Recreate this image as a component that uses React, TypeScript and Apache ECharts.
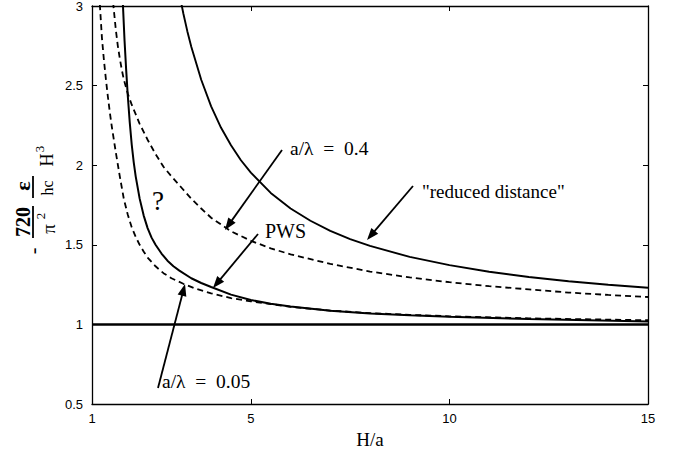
import React, { useEffect, useRef } from "react";
import * as echarts from "echarts";

// Axis ticks
const xTicks = [1, 5, 10, 15];
const yTicks = [0.5, 1, 1.5, 2, 2.5, 3];

// "reduced distance" (solid)
const reducedX = [3.1, 3.2, 3.3, 3.4, 3.5, 3.75, 4, 4.25, 4.5, 4.75, 5, 5.5, 6, 6.5, 7, 7.5, 8, 9, 10, 11, 12, 13, 14, 15];
const reducedY = [3.217, 3.077, 2.953, 2.842, 2.744, 2.537, 2.37, 2.235, 2.125, 2.031, 1.953, 1.826, 1.728, 1.651, 1.588, 1.536, 1.493, 1.424, 1.372, 1.331, 1.298, 1.271, 1.249, 1.23];

// PWS (solid)
const pwsX = [1.74, 1.78, 1.82, 1.86, 1.9, 1.95, 2.0, 2.05, 2.1, 2.2, 2.3, 2.4, 2.5, 2.6, 2.75, 2.9, 3.05, 3.2, 3.5, 3.75, 4, 4.5, 5, 5.5, 6, 7, 8, 9, 10, 12, 15];
const pwsY = [3.3, 3.0, 2.78, 2.6, 2.44, 2.27, 2.13, 2.02, 1.93, 1.79, 1.685, 1.605, 1.545, 1.5, 1.445, 1.4, 1.365, 1.338, 1.29, 1.26, 1.235, 1.187, 1.153, 1.13, 1.112, 1.086, 1.069, 1.057, 1.048, 1.034, 1.018];

// a/lambda = 0.05 (dashed)
const l005X = [1.17, 1.2, 1.25, 1.3, 1.35, 1.4, 1.45, 1.5, 1.6, 1.7, 1.8, 1.9, 2.0, 2.1, 2.2, 2.3, 2.4, 2.6, 2.8, 3.0, 3.3, 3.6, 4.0, 4.5, 5, 5.5, 6, 7, 8, 9, 10, 12, 15];
const l005Y = [3.2, 3.0, 2.8, 2.66, 2.54, 2.43, 2.33, 2.24, 2.08, 1.93, 1.79, 1.69, 1.61, 1.55, 1.5, 1.458, 1.42, 1.365, 1.322, 1.29, 1.255, 1.225, 1.195, 1.165, 1.145, 1.128, 1.11, 1.087, 1.071, 1.06, 1.051, 1.038, 1.026];

// a/lambda = 0.4 (dashed)
const l04X = [1.5, 1.54, 1.6, 1.65, 1.7, 1.75, 1.8, 1.9, 2.0, 2.2, 2.4, 2.6, 2.8, 3.0, 3.25, 3.5, 3.75, 4.0, 4.5, 5.0, 5.5, 6, 7, 8, 9, 10, 11, 12, 13, 14, 15];
const l04Y = [3.15, 3.0, 2.85, 2.75, 2.67, 2.6, 2.54, 2.45, 2.38, 2.26, 2.16, 2.07, 1.99, 1.93, 1.86, 1.79, 1.728, 1.67, 1.585, 1.525, 1.478, 1.44, 1.38, 1.332, 1.295, 1.265, 1.24, 1.22, 1.2, 1.185, 1.172];

// reference level
const refX = [1, 15];
const refY = [1, 1];

const zip = (xs: number[], ys: number[]) => xs.map((x, i) => [x, ys[i]]);

const SERIF = "'Liberation Serif', 'DejaVu Serif', serif";
const SANS = "'Liberation Sans', Arial, sans-serif";

function arrow(x1: number, y1: number, x2: number, y2: number) {
  const dx = x2 - x1;
  const dy = y2 - y1;
  const len = Math.hypot(dx, dy);
  const ux = dx / len;
  const uy = dy / len;
  const hl = 12;
  const hw = 4.5;
  const bx = x2 - ux * hl;
  const by = y2 - uy * hl;
  return [
    {
      type: "line",
      shape: { x1, y1, x2: bx + ux * 2, y2: by + uy * 2 },
      style: { stroke: "#000", lineWidth: 1.8 },
      silent: true,
    },
    {
      type: "polygon",
      shape: {
        points: [
          [x2, y2],
          [bx - uy * hw, by + ux * hw],
          [bx + uy * hw, by - ux * hw],
        ],
      },
      style: { fill: "#000" },
      silent: true,
    },
  ];
}

function label(text: string, x: number, y: number, size: number) {
  return {
    type: "text",
    x,
    y,
    style: {
      text,
      font: `${size}px ${SERIF}`,
      fill: "#000",
      align: "left",
      verticalAlign: "middle",
    },
    silent: true,
  };
}

function rot(text: string, x: number, y: number, size: number, weight = "normal") {
  return {
    type: "text",
    x,
    y,
    rotation: Math.PI / 2,
    style: {
      text,
      font: `${weight} ${size}px ${SERIF}`,
      fill: "#000",
      align: "center",
      verticalAlign: "middle",
    },
    silent: true,
  };
}

export default function App() {
  const ref = useRef<HTMLDivElement>(null);

  useEffect(() => {
    document.body.style.margin = "0";
    if (!ref.current) return;
    const chart = echarts.init(ref.current, null, { renderer: "svg" });

    const lineBase = {
      type: "line",
      showSymbol: false,
      symbol: "none",
      smooth: false,
      clip: true,
      xAxisIndex: 0,
      yAxisIndex: 0,
    };

    const axisLine = { show: true, lineStyle: { color: "#000", width: 1.3 } };

    const graphic: any[] = [
      // annotations
      label("a/λ\u2002=\u20020.4", 290, 148, 19.5),
      ...arrow(282, 150, 225, 230),
      label("PWS", 265, 231, 20),
      ...arrow(258, 234, 213, 288),
      label("?", 152, 201, 27),
      label("\"reduced distance\"", 422, 191, 19),
      ...arrow(413, 186, 367, 240),
      label("a/λ\u2002=\u20020.05", 162, 381, 19.5),
      ...arrow(158, 388, 185, 284),
      // y axis title: - 720/π² ε/hc H³ (rotated)
      rot("-", 33, 251, 20),
      rot("720", 23, 222, 20, "bold"),
      { type: "line", shape: { x1: 33, y1: 206, x2: 33, y2: 238 }, style: { stroke: "#000", lineWidth: 1.8 }, silent: true },
      rot("π", 48, 229, 19),
      rot("2", 40, 216, 13),
      rot("ε", 22, 186, 22, "bold"),
      { type: "line", shape: { x1: 33, y1: 176, x2: 33, y2: 198 }, style: { stroke: "#000", lineWidth: 1.8 }, silent: true },
      rot("hc", 47, 188, 16),
      rot("H", 47, 160, 18),
      rot("3", 39, 149, 13),
    ];

    chart.setOption({
      animation: false,
      backgroundColor: "#fff",
      grid: {
        left: 92,
        right: 26,
        top: 6,
        bottom: 47,
        containLabel: false,
        outerBoundsMode: "none",
      },
      xAxis: [
        {
          type: "value",
          min: 1,
          max: 15,
          position: "bottom",
          name: "H/a",
          nameLocation: "middle",
          nameGap: 22,
          nameTextStyle: { fontFamily: SERIF, fontSize: 19, color: "#000" },
          axisLine,
          axisTick: { show: true, inside: true, length: 5, customValues: xTicks, lineStyle: { color: "#000", width: 1 } },
          axisLabel: { customValues: xTicks, fontFamily: SANS, fontSize: 13, color: "#000", margin: 8 },
          splitLine: { show: false },
        },
        {
          type: "value",
          min: 1,
          max: 15,
          position: "top",
          axisLine,
          axisTick: { show: true, inside: true, length: 5, customValues: xTicks, lineStyle: { color: "#000", width: 1 } },
          axisLabel: { show: false },
          splitLine: { show: false },
        },
      ],
      yAxis: [
        {
          type: "value",
          min: 0.5,
          max: 3,
          interval: 0.5,
          position: "left",
          axisLine,
          axisTick: { show: true, inside: true, length: 5, lineStyle: { color: "#000", width: 1 } },
          axisLabel: {
            fontFamily: SANS,
            fontSize: 13,
            color: "#000",
            margin: 9,
            formatter: (v: number) => (yTicks.includes(v) ? String(v) : ""),
          },
          splitLine: { show: false },
        },
        {
          type: "value",
          min: 0.5,
          max: 3,
          interval: 0.5,
          position: "right",
          axisLine,
          axisTick: { show: true, inside: true, length: 5, lineStyle: { color: "#000", width: 1 } },
          axisLabel: { show: false },
          splitLine: { show: false },
        },
      ],
      series: [
        {
          ...lineBase,
          name: "reference",
          data: zip(refX, refY),
          lineStyle: { color: "#000", width: 2.5, type: "solid" },
        },
        {
          ...lineBase,
          name: "reduced distance",
          data: zip(reducedX, reducedY),
          lineStyle: { color: "#000", width: 1.9, type: "solid" },
        },
        {
          ...lineBase,
          name: "PWS",
          data: zip(pwsX, pwsY),
          lineStyle: { color: "#000", width: 2, type: "solid" },
        },
        {
          ...lineBase,
          name: "a/λ = 0.05",
          data: zip(l005X, l005Y),
          lineStyle: { color: "#000", width: 1.8, type: [6, 4] },
        },
        {
          ...lineBase,
          name: "a/λ = 0.4",
          data: zip(l04X, l04Y),
          lineStyle: { color: "#000", width: 1.8, type: [6, 4] },
        },
      ],
      graphic,
    });

    return () => chart.dispose();
  }, []);

  return <div ref={ref} style={{ width: 674, height: 451 }} />;
}
